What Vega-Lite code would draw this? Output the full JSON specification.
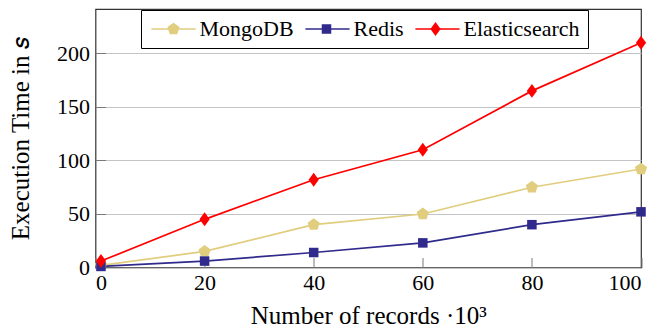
{
  "$schema": "https://vega.github.io/schema/vega-lite/v6.json",
  "width": 545.5,
  "height": 258.5,
  "autosize": {"type": "none"},
  "padding": {"left": 95.5, "top": 9, "right": 20, "bottom": 68.5},
  "background": "white",
  "config": {
    "font": "Liberation Serif",
    "view": {"stroke": "#333333", "strokeWidth": 1.2},
    "axis": {
      "labelFont": "Liberation Serif",
      "labelFontSize": 22,
      "labelColor": "black",
      "titleFont": "Liberation Serif",
      "titleFontSize": 25,
      "titleFontWeight": "normal",
      "titleColor": "black",
      "domain": false,
      "tickColor": "#7a7a7a",
      "tickSize": -10,
      "tickWidth": 1,
      "gridColor": "#c4c4c4",
      "gridWidth": 1
    },
    "legend": {
      "title": null,
      "orient": "none",
      "legendX": 45.5,
      "legendY": 1,
      "direction": "horizontal",
      "padding": 8,
      "symbolSize": 289,
      "symbolOffset": 13.5,
      "symbolOpacity": 1,
      "labelOffset": 15,
      "columnPadding": 8,
      "labelFont": "Liberation Serif",
      "labelFontSize": 22,
      "labelColor": "black"
    }
  },
  "data": {
    "values": [
      {"db": "MongoDB", "records": 1, "time": 2},
      {"db": "MongoDB", "records": 20, "time": 15},
      {"db": "MongoDB", "records": 40, "time": 40},
      {"db": "MongoDB", "records": 60, "time": 50},
      {"db": "MongoDB", "records": 80, "time": 75},
      {"db": "MongoDB", "records": 100, "time": 92},
      {"db": "Redis", "records": 1, "time": 1},
      {"db": "Redis", "records": 20, "time": 6},
      {"db": "Redis", "records": 40, "time": 14},
      {"db": "Redis", "records": 60, "time": 23},
      {"db": "Redis", "records": 80, "time": 40},
      {"db": "Redis", "records": 100, "time": 52},
      {"db": "Elasticsearch", "records": 1, "time": 6},
      {"db": "Elasticsearch", "records": 20, "time": 45},
      {"db": "Elasticsearch", "records": 40, "time": 82},
      {"db": "Elasticsearch", "records": 60, "time": 110},
      {"db": "Elasticsearch", "records": 80, "time": 165},
      {"db": "Elasticsearch", "records": 100, "time": 210}
    ]
  },
  "encoding": {
    "x": {
      "field": "records",
      "type": "quantitative",
      "scale": {"domain": [0, 100], "nice": false},
      "axis": {
        "values": [0, 20, 40, 60, 80, 100],
        "grid": false,
        "labelPadding": 15,
        "title": "Number of records ·10³",
        "titlePadding": 10
      }
    },
    "y": {
      "field": "time",
      "type": "quantitative",
      "scale": {"domain": [0, 241.5], "nice": false},
      "axis": {
        "values": [0, 50, 100, 150, 200],
        "grid": true,
        "labelPadding": 16,
        "title": "Execution Time in 𝑠",
        "titlePadding": 23
      }
    }
  },
  "layer": [
    {
      "mark": {"type": "line", "strokeWidth": 1.7},
      "encoding": {
        "stroke": {
          "field": "db",
          "type": "nominal",
          "sort": ["MongoDB", "Redis", "Elasticsearch"],
          "scale": {"range": ["#e0cd7e", "#2f2a8c", "#ff0000"]},
          "legend": {
            "strokeColor": "black",
            "symbolType": "M-2.6,0H2.6",
            "symbolStrokeWidth": 1.7
          }
        }
      }
    },
    {
      "mark": {"type": "point", "filled": true, "opacity": 1, "size": 289},
      "encoding": {
        "color": {
          "field": "db",
          "type": "nominal",
          "scale": {
            "domain": ["MongoDB", "Redis", "Elasticsearch"],
            "range": ["#e0cd7e", "#2f2a8c", "#ff0000"]
          },
          "legend": {"labelOpacity": 0}
        },
        "shape": {
          "field": "db",
          "type": "nominal",
          "scale": {
            "domain": ["MongoDB", "Redis", "Elasticsearch"],
            "range": [
              "M0,-0.75L0.713,-0.232L0.441,0.607L-0.441,0.607L-0.713,-0.232Z",
              "M-0.56,-0.56H0.56V0.56H-0.56Z",
              "M0,-0.82L0.6,0L0,0.82L-0.6,0Z"
            ]
          },
          "legend": null
        }
      }
    }
  ]
}
